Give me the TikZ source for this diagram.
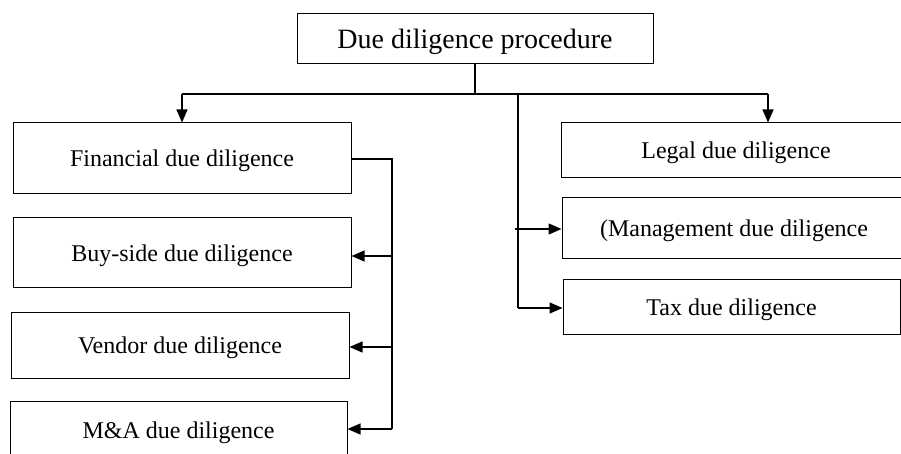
\documentclass[tikz,border=0pt]{standalone}
\usepackage{fontspec}
\setmainfont{Liberation Serif}
\usetikzlibrary{arrows.meta}
\begin{document}
\begin{tikzpicture}[x=1pt,y=-1pt,
  box/.style={draw,line width=1pt,rectangle,inner sep=0pt,text height=20pt,text depth=3pt,font=\fontsize{24}{28}\selectfont},
  conn/.style={line width=1.3pt},
  arr/.style={line width=1.3pt,-{Triangle[length=13pt,width=11pt]}}]
\useasboundingbox (0,0) rectangle (901,454);
\clip (0,0) rectangle (901,454);
\node[box,minimum width=356pt,minimum height=50pt,text height=22pt,text depth=3pt,font=\fontsize{28}{32}\selectfont] (top) at (475,39) {Due diligence procedure};
\node[box,minimum width=338pt,minimum height=71pt] (fin) at (182,158.5) {Financial due diligence};
\node[box,minimum width=338pt,minimum height=69pt] (buy) at (182,252.5) {Buy-side due diligence};
\node[box,minimum width=338pt,minimum height=66pt] (ven) at (180,345) {Vendor due diligence};
\node[box,minimum width=337pt,minimum height=58pt] (ma) at (178.5,430) {M\&A due diligence};
\node[box,minimum width=350pt,minimum height=55pt] (legal) at (736,150.5) {Legal due diligence};
\node[box,minimum width=344pt,minimum height=60pt] (mgmt) at (734,228) {(Management due diligence};
\node[box,minimum width=337pt,minimum height=55pt] (tax) at (731.5,306.5) {Tax due diligence};
% top branching
\coordinate (jc) at (475,94);
\coordinate (jl) at (182,94);
\coordinate (jr) at (768,94);
\coordinate (jm) at (518,94);
\coordinate (jt) at (518,308);
\coordinate (mm) at (515,229);
\draw[conn] (top.south) -- (jc);
\draw[conn] (jl) -- (jr);
\draw[arr] (jl) -- (fin.north);
\draw[arr] (jr) -- (jr |- legal.north);
\draw[conn] (jm) -- (jt);
\draw[arr] (jt) -- (jt -| tax.west);
\draw[arr] (mm) -- (mm -| mgmt.west);
% left side
\coordinate (f1) at (392,159);
\coordinate (b1) at (392,256);
\coordinate (v1) at (392,347);
\coordinate (m1) at (392,429);
\draw[conn] (fin.east |- f1) -- (f1) -- (m1);
\draw[arr] (b1) -- (b1 -| buy.east);
\draw[arr] (v1) -- (v1 -| ven.east);
\draw[arr] (m1) -- (m1 -| ma.east);
\end{tikzpicture}
\end{document}
